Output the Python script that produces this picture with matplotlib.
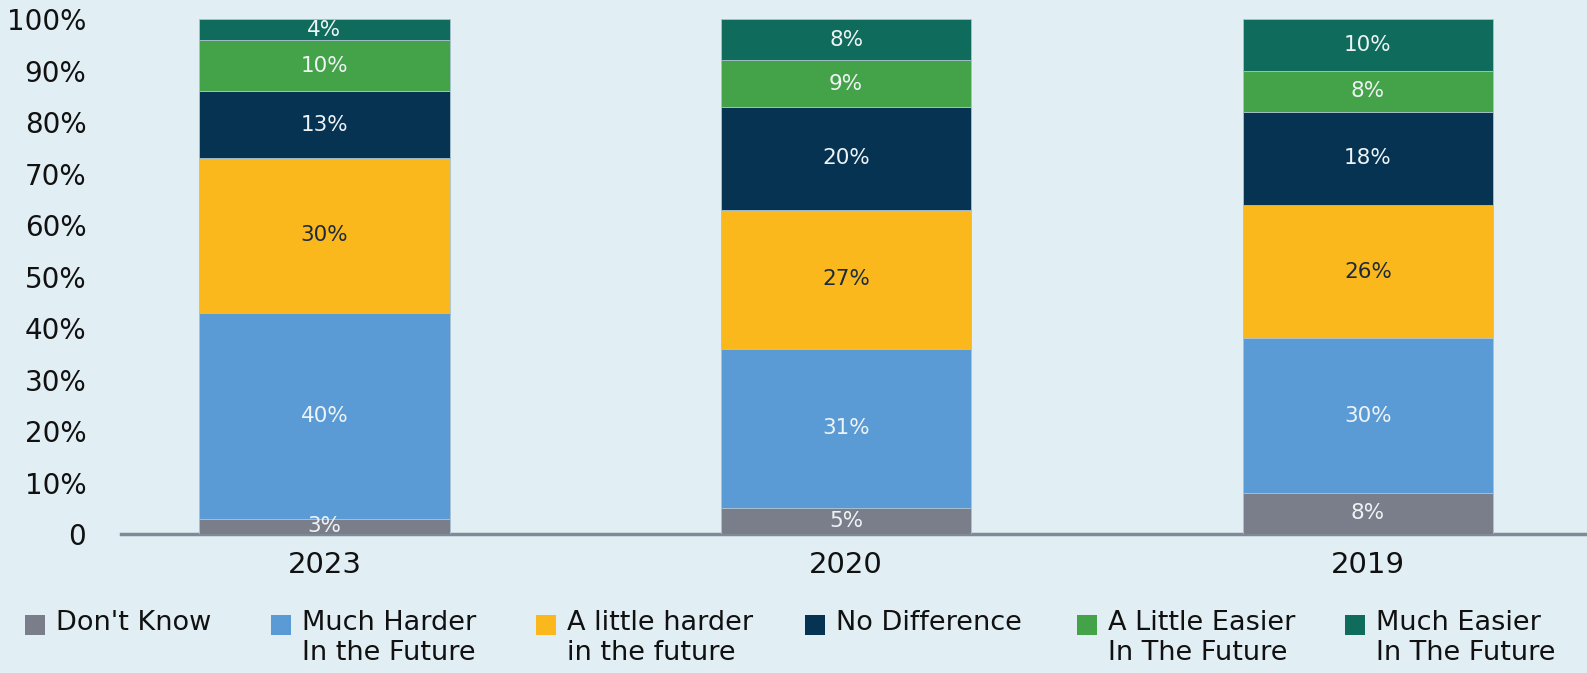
import matplotlib.pyplot as plt
from matplotlib.patches import Rectangle

plt.rcParams['font.family'] = ['DejaVu Sans']

# survey years and stacked answer shares (%)
years = ["2023", "2020", "2019"]
dont_know = [3, 5, 8]
much_harder = [40, 31, 30]
little_harder = [30, 27, 26]
no_difference = [13, 20, 18]
little_easier = [10, 9, 8]
much_easier = [4, 8, 10]

series = [dont_know, much_harder, little_harder, no_difference, little_easier, much_easier]
labels = ["Don't Know", "Much Harder\nIn the Future", "A little harder\nin the future",
          "No Difference", "A Little Easier\nIn The Future", "Much Easier\nIn The Future"]
colors = ["#7a7e8a", "#5b9bd5", "#fbb81d", "#063352", "#44a249", "#0f6b5b"]
text_colors = ["#eef3f6", "#eef3f6", "#1c2b3a", "#eef3f6", "#eef3f6", "#eef3f6"]

bg = "#e1eef4"
W, H = 1587, 673

fig = plt.figure(figsize=(W / 100, H / 100), dpi=100, facecolor=bg)
ax = fig.add_axes([121 / W, 139 / H, 1 - 121 / W, 525 / H])
ax.set_facecolor(bg)

x = list(range(len(years)))
bottom = [0] * len(years)
for vals, col, tcol in zip(series, colors, text_colors):
    bars = ax.bar(x, vals, width=0.48, bottom=bottom, color=col,
                  edgecolor="#a9c2cf", linewidth=0.6, zorder=2)
    for b, v in zip(bars, vals):
        ax.text(b.get_x() + b.get_width() / 2, b.get_y() + v / 2, f"{v}%",
                ha="center", va="center", color=tcol, fontsize=15.5, zorder=3)
    bottom = [b + v for b, v in zip(bottom, vals)]

ax.set_xlim(-0.39, 2.42)
ax.set_ylim(0, 102)
ax.set_yticks(range(0, 101, 10))
ax.set_yticklabels(["0"] + [f"{t}%" for t in range(10, 101, 10)])
ax.set_xticks(x)
ax.set_xticklabels(years)
ax.tick_params(axis="y", length=0, pad=25, labelsize=20, labelcolor="#111111")
ax.tick_params(axis="x", length=0, pad=12, labelsize=21, labelcolor="#111111")
for side in ["top", "right", "left"]:
    ax.spines[side].set_visible(False)
ax.spines["bottom"].set_color("#7f8a96")
ax.spines["bottom"].set_linewidth(2.5)
ax.spines["bottom"].set_zorder(1)

# legend row under the chart, square swatch next to the first text line
legend_x = [25, 271, 536, 805, 1077, 1345]
legend_y = 625
for lx, lab, col in zip(legend_x, labels, colors):
    fig.patches.append(Rectangle((lx / W, (H - legend_y - 10) / H), 20 / W, 20 / H,
                                 transform=fig.transFigure, facecolor=col,
                                 edgecolor="none"))
    fig.text((lx + 31) / W, (H - legend_y + 15) / H, lab, ha="left", va="top",
             fontsize=19.5, color="#111111", linespacing=1.2)

fig.savefig("out.png", dpi=100, facecolor=bg)
